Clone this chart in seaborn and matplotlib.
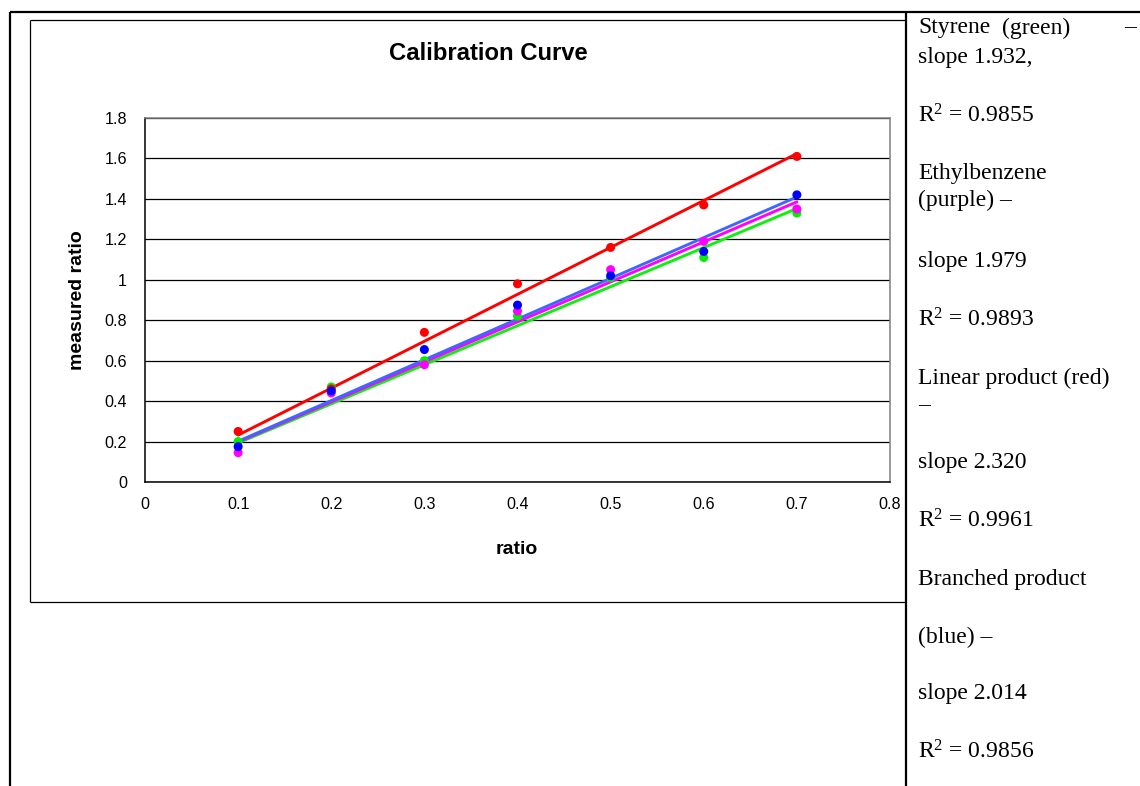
import matplotlib
matplotlib.use("Agg")
import matplotlib.pyplot as plt
from matplotlib.lines import Line2D
import numpy as np
import pandas as pd
import seaborn as sns

# ---- data -------------------------------------------------------------
ratio = [0.1, 0.2, 0.3, 0.4, 0.5, 0.6, 0.7]
styrene = [0.20, 0.47, 0.60, 0.82, 1.01, 1.11, 1.33]        # green
ethylbenzene = [0.145, 0.44, 0.58, 0.845, 1.05, 1.19, 1.35]  # purple
linear_product = [0.25, 0.46, 0.74, 0.98, 1.16, 1.37, 1.61]   # red
branched_product = [0.175, 0.45, 0.655, 0.875, 1.02, 1.14, 1.42]  # blue

series_names = ["Styrene", "Ethylbenzene", "Linear product", "Branched product"]
slopes = [1.932, 1.979, 2.320, 2.014]
r_squared = ["0.9855", "0.9893", "0.9961", "0.9856"]

y_ticks = [0, 0.2, 0.4, 0.6, 0.8, 1, 1.2, 1.4, 1.6, 1.8]
y_tick_labels = ["0", "0.2", "0.4", "0.6", "0.8", "1", "1.2", "1.4", "1.6", "1.8"]
x_ticks = [0, 0.1, 0.2, 0.3, 0.4, 0.5, 0.6, 0.7, 0.8]
x_tick_labels = ["0", "0.1", "0.2", "0.3", "0.4", "0.5", "0.6", "0.7", "0.8"]

point_colors = {"Styrene": "#00EE00", "Ethylbenzene": "#FF00FF",
                "Linear product": "#FF0000", "Branched product": "#0000FF"}
line_colors = {"Styrene": "#11EE11", "Ethylbenzene": "#FF00FF",
               "Linear product": "#FF0000", "Branched product": "#3F66FF"}
draw_order = ["Styrene", "Ethylbenzene", "Branched product", "Linear product"]

points = pd.DataFrame({
    "ratio": ratio * 4,
    "measured": styrene + ethylbenzene + linear_product + branched_product,
    "compound": sum([[n] * len(ratio) for n in series_names], []),
})

# trendlines forced through the origin: y = slope * x over the measured range
fit_x = [min(ratio), max(ratio)]
fits = pd.DataFrame({
    "ratio": fit_x * 4,
    "measured": [s * x for s in slopes for x in fit_x],
    "compound": sum([[n] * 2 for n in series_names], []),
})

# ---- figure -----------------------------------------------------------
sns.set_theme(style="white")
plt.rcParams["font.family"] = ["Liberation Sans", "DejaVu Sans"]
plt.rcParams["text.color"] = "black"
plt.rcParams["axes.labelcolor"] = "black"
plt.rcParams["mathtext.fontset"] = "custom"
plt.rcParams["mathtext.rm"] = "Liberation Serif"
plt.rcParams["mathtext.it"] = "Liberation Serif:italic"
plt.rcParams["mathtext.bf"] = "Liberation Serif:bold"

W, H = 1140, 786
fig = plt.figure(figsize=(W / 100, H / 100), dpi=100)
fig.patch.set_facecolor("white")


def fx(px):
    return px / W


def fy(py):
    return 1 - py / H


ax = fig.add_axes([fx(145), fy(482), fx(890) - fx(145), fy(118) - fy(482)])

sns.lineplot(data=fits, x="ratio", y="measured", hue="compound",
             palette=line_colors, hue_order=draw_order,
             linewidth=2.1, legend=False, ax=ax, zorder=3)
sns.scatterplot(data=points, x="ratio", y="measured", hue="compound",
                palette=point_colors, hue_order=draw_order,
                s=42, edgecolor="none", legend=False, ax=ax, zorder=4)

ax.set_xlim(0, 0.8)
ax.set_ylim(0, 1.8)
ax.set_xticks(x_ticks)
ax.set_xticklabels(x_tick_labels)
ax.set_yticks(y_ticks)
ax.set_yticklabels(y_tick_labels)
ax.tick_params(axis="both", which="major", direction="out", length=5, width=1,
               color="black", labelsize=11.6, labelcolor="black", pad=6)
ax.tick_params(axis="y", pad=8)
ax.yaxis.grid(True, color="black", linewidth=0.9)
ax.xaxis.grid(False)
ax.set_axisbelow(True)
for side in ["left", "bottom"]:
    ax.spines[side].set_color("black")
    ax.spines[side].set_linewidth(1.1)
for side in ["top", "right"]:
    ax.spines[side].set_color("#808080")
    ax.spines[side].set_linewidth(1.1)
ax.set_xlabel("")
ax.set_ylabel("")

fig.text(fx(488), fy(53), "Calibration Curve", ha="center", va="center",
         fontsize=17.2, fontweight="bold", color="black")
fig.text(fx(517), fy(549), "ratio", ha="center", va="center",
         fontsize=14, fontweight="bold", color="black")
fig.text(fx(77), fy(300), "measured ratio", ha="center", va="center",
         rotation=90, fontsize=14, fontweight="bold", color="black")

# ---- table rules and chart frame ---------------------------------------
def rule(x0, y0, x1, y1, lw):
    fig.add_artist(Line2D([fx(x0), fx(x1)], [fy(y0), fy(y1)],
                          transform=fig.transFigure, color="black",
                          linewidth=lw, solid_capstyle="butt"))


rule(10, 12, W, 12, 1.6)
rule(10, 12, 10, H, 1.6)
rule(906, 12, 906, H, 1.6)
rule(30, 19.5, 906, 19.5, 0.9)
rule(30, 19.5, 30, 602, 0.9)
rule(30, 602, 906, 602, 0.9)

# ---- notes column -----------------------------------------------------
serif = ["Liberation Serif", "DejaVu Serif"]
note_fs = 17
tx = 918


def note(y, s, x=tx):
    fig.text(fx(x), fy(y), s, ha="left", va="center", fontsize=note_fs,
             family=serif, color="black")


def r2(value):
    return r"$\mathrm{R}^{2}$" + f" = {value}"


note(28, "Styrene")
note(28, "(green)", x=1002)
note(28, "–", x=1124)
note(58, f"slope {slopes[0]:.3f},")
note(116, r2(r_squared[0]))
note(174, "Ethylbenzene")
note(200, "(purple) –")
note(262, f"slope {slopes[1]:.3f}")
note(320, r2(r_squared[1]))
note(378, "Linear product (red)")
note(406, "–")
note(463, f"slope {slopes[2]:.3f}")
note(521, r2(r_squared[2]))
note(580, "Branched product")
note(637, "(blue) –")
note(694, f"slope {slopes[3]:.3f}")
note(752, r2(r_squared[3]))

fig.savefig("out.png", dpi=100, facecolor="white")
